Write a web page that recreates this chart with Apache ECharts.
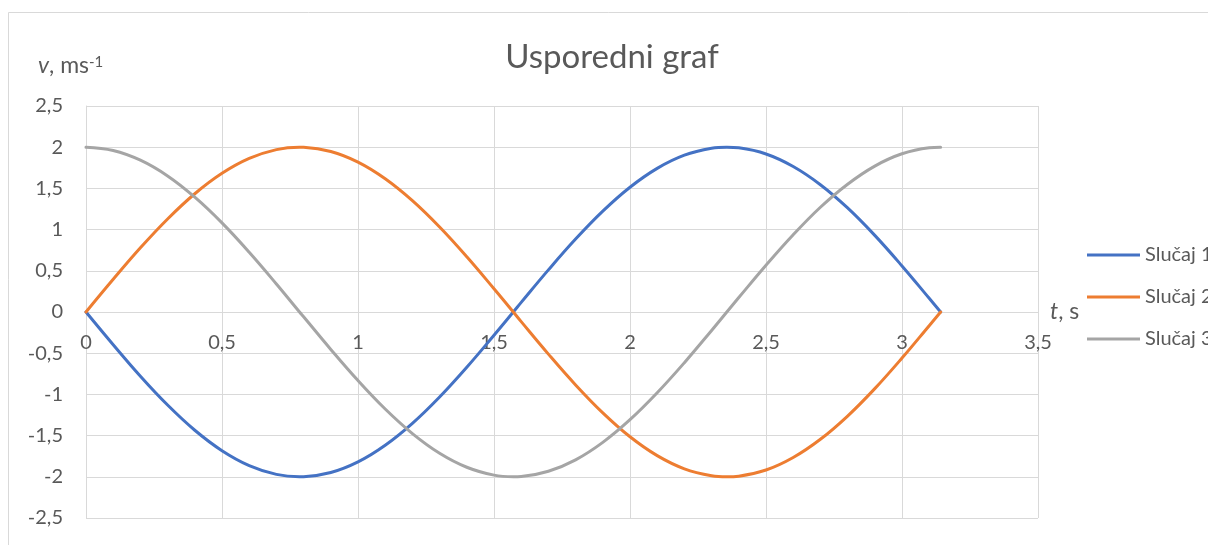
<!DOCTYPE html>
<html>
<head>
<meta charset="utf-8">
<script src="https://cdn.jsdelivr.net/npm/echarts@6/dist/echarts.min.js"></script>
<style>html,body{margin:0;padding:0;background:#fff;}#c{width:1208px;height:545px;}</style>
</head>
<body>
<div id="c"></div>
<script>
var tValues = [0,0.1,0.2,0.3,0.4,0.5,0.6,0.7,0.785,0.8,0.9,1.0,1.1,1.2,1.3,1.4,1.5,1.571,1.6,1.7,1.8,1.9,2.0,2.1,2.2,2.3,2.356,2.4,2.5,2.6,2.7,2.8,2.9,3.0,3.1,3.142];
var slucaj1 = [0,-0.397,-0.779,-1.129,-1.435,-1.683,-1.864,-1.971,-2.000,-1.999,-1.948,-1.819,-1.617,-1.351,-1.031,-0.670,-0.282,0.000,0.117,0.511,0.885,1.224,1.514,1.743,1.903,1.987,2.000,1.992,1.918,1.766,1.545,1.263,0.930,0.559,0.166,0];
var slucaj2 = [0,0.397,0.779,1.129,1.435,1.683,1.864,1.971,2.000,1.999,1.948,1.819,1.617,1.351,1.031,0.670,0.282,0.000,-0.117,-0.511,-0.885,-1.224,-1.514,-1.743,-1.903,-1.987,-2.000,-1.992,-1.918,-1.766,-1.545,-1.263,-0.930,-0.559,-0.166,0];
var slucaj3 = [2.000,1.960,1.842,1.651,1.393,1.081,0.725,0.340,0.000,-0.058,-0.454,-0.832,-1.177,-1.475,-1.714,-1.884,-1.980,-2.000,-1.997,-1.933,-1.794,-1.582,-1.307,-0.980,-0.615,-0.224,0.000,0.175,0.567,0.937,1.271,1.551,1.771,1.920,1.993,2.000];
var seriesNames = ['Slučaj 1','Slučaj 2','Slučaj 3'];
var seriesColors = ['#4472C4','#ED7D31','#A5A5A5'];
var titleText = 'Usporedni graf';

function pairs(ys){ return tValues.map(function(t,i){ return [t, ys[i]]; }); }
function fmt(v){ return String(Math.round(v*10)/10).replace('.', ','); }

var FONT = 'Lato';
var TXT = '#595959';
var GRID = '#D9D9D9';
var chart = echarts.init(document.getElementById('c'));
var data = [slucaj1, slucaj2, slucaj3];
chart.setOption({
  animation: false,
  backgroundColor: '#fff',
  textStyle: {fontFamily: FONT},
  grid: {left: 86, right: 170, top: 106, bottom: 27, containLabel: false, outerBoundsMode: 'none'},
  graphic: [
    {type:'rect', shape:{x:8.5, y:12.5, width:1400, height:800}, style:{fill:'none', stroke:GRID, lineWidth:1}, z:-10},
    {type:'text', x:612, y:57, style:{text:titleText, fontFamily:FONT, fontSize:33, fill:TXT, align:'center', verticalAlign:'middle'}},
    {type:'text', x:38, y:66, style:{text:'{i|v}, ms{s|-1}', fontFamily:FONT, fontSize:23, fill:TXT, verticalAlign:'middle',
      rich:{i:{fontStyle:'italic', fontFamily:FONT, fontSize:23, fill:TXT}, s:{fontFamily:FONT, fontSize:15, fill:TXT, verticalAlign:'top'}}}}
  ],
  legend: {
    orient:'vertical', left:1082, top:240, itemWidth:53, itemHeight:3, itemGap:22, icon:'rect',
    textStyle:{fontFamily:FONT, fontSize:20, color:TXT},
    data: seriesNames
  },
  xAxis: {
    type:'value', min:0, max:3.5, interval:0.5, offset:-206,
    name:'{i|t}, s', nameLocation:'end', nameGap:12,
    nameTextStyle:{fontFamily:FONT, fontSize:23, color:TXT, verticalAlign:'middle', align:'left',
      rich:{i:{fontStyle:'italic', fontFamily:FONT, fontSize:23, color:TXT}}},
    axisLine:{show:true, onZero:false, lineStyle:{color:GRID, width:1}},
    axisTick:{show:false},
    axisLabel:{fontFamily:FONT, fontSize:20, color:TXT, margin:21, formatter:fmt},
    splitLine:{show:true, lineStyle:{color:GRID, width:1}}
  },
  yAxis: {
    type:'value', min:-2.5, max:2.5, interval:0.5,
    axisLine:{show:true, lineStyle:{color:GRID, width:1}},
    axisTick:{show:false},
    axisLabel:{fontFamily:FONT, fontSize:20, color:TXT, margin:23, formatter:fmt},
    splitLine:{show:true, lineStyle:{color:GRID, width:1}}
  },
  series: seriesNames.map(function(n,i){
    return {name:n, type:'line', data:pairs(data[i]), smooth:0.4, symbol:'none', showSymbol:false,
      lineStyle:{color:seriesColors[i], width:3, cap:'round', join:'round'}, itemStyle:{color:seriesColors[i]}};
  })
});
</script>
</body>
</html>
